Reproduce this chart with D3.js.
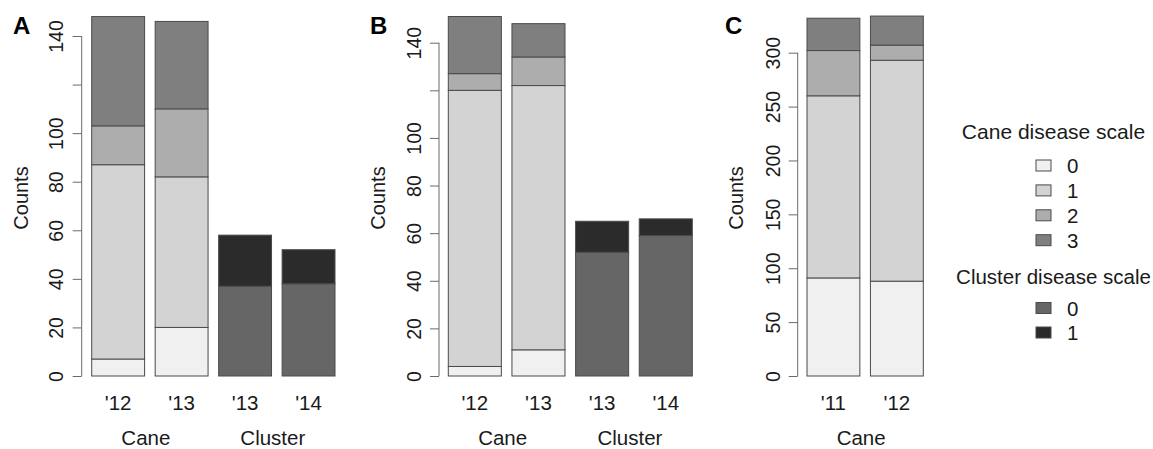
<!DOCTYPE html>
<html>
<head>
<meta charset="utf-8">
<script src="https://cdn.jsdelivr.net/npm/d3@7"></script>
<style>
  html, body { margin: 0; padding: 0; background: #fff; }
  svg { display: block; font-family: "Liberation Sans", Arial, sans-serif; }
</style>
</head>
<body>
<svg id="chart" width="1153" height="449"></svg>
<script>
// ---------- DATA ----------
const caneLevels = ["0", "1", "2", "3"];
const clusterLevels = ["0", "1"];

// Panel A
const aCaneYears = ["'12", "'13"];
const aClusterYears = ["'13", "'14"];
const aCane0 = [7, 20];
const aCane1 = [80, 62];
const aCane2 = [16, 28];
const aCane3 = [45, 36];
const aCluster0 = [37, 38];
const aCluster1 = [21, 14];
const aTicks = [0, 20, 40, 60, 80, 100, 120, 140];
const aTickLabels = ["0", "20", "40", "60", "80", "100", "", "140"];

// Panel B
const bCaneYears = ["'12", "'13"];
const bClusterYears = ["'13", "'14"];
const bCane0 = [4, 11];
const bCane1 = [116, 111];
const bCane2 = [7, 12];
const bCane3 = [24, 14];
const bCluster0 = [52, 59];
const bCluster1 = [13, 7];
const bTicks = [0, 20, 40, 60, 80, 100, 120, 140];
const bTickLabels = ["0", "20", "40", "60", "80", "100", "", "140"];

// Panel C
const cCaneYears = ["'11", "'12"];
const cCane0 = [91, 88];
const cCane1 = [169, 205];
const cCane2 = [42, 14];
const cCane3 = [30, 27];
const cTicks = [0, 50, 100, 150, 200, 250, 300];
const cTickLabels = ["0", "50", "100", "150", "200", "250", "300"];

// ---------- STYLE ----------
const caneColors = ["#f0f0f0", "#d3d3d3", "#adadad", "#7f7f7f"];
const clusterColors = ["#666666", "#2b2b2b"];
const borderColor = "#4a4a4a";
const axisColor = "#6a6a6a";
const textColor = "#1a1a1a";

const svg = d3.select("#chart");

function buildRows(years, arrays, keys, group) {
  return years.map((yr, i) => {
    const r = { label: yr, group: group };
    keys.forEach((k, j) => r[k] = arrays[j][i]);
    return r;
  });
}

function drawPanel(cfg) {
  const g = svg.append("g");
  const y = d3.scaleLinear().domain([0, cfg.yMax]).range([376, cfg.yTopPx]);
  const ids = cfg.bars.map((d, i) => i);
  const x = d3.scaleBand().domain(ids).range(cfg.xRange).paddingInner(1 / 6).paddingOuter(0);

  // stacked bars
  cfg.stacks.forEach(st => {
    const series = d3.stack().keys(st.keys)(st.rows);
    series.forEach((s, si) => {
      g.selectAll(null).data(s).enter().append("rect")
        .attr("x", (d, i) => x(st.offset + i))
        .attr("width", x.bandwidth())
        .attr("y", d => y(d[1]))
        .attr("height", d => y(d[0]) - y(d[1]))
        .attr("fill", st.colors[si])
        .attr("stroke", borderColor)
        .attr("stroke-width", 1);
    });
  });

  // y axis
  const axis = d3.axisLeft(y).tickValues(cfg.ticks)
    .tickFormat((d, i) => cfg.tickLabels[i])
    .tickSize(9).tickSizeOuter(0);
  const ag = g.append("g").attr("transform", `translate(${cfg.axisX},0)`).call(axis);
  ag.select(".domain").attr("stroke", axisColor).attr("d", `M0,${y(cfg.ticks[0])}V${y(cfg.ticks[cfg.ticks.length - 1])}`);
  ag.selectAll(".tick line").attr("stroke", axisColor);
  ag.selectAll(".tick text")
    .attr("x", null).attr("dy", null)
    .attr("transform", `translate(${cfg.tickLabelOffset},0) rotate(-90)`)
    .attr("text-anchor", "middle")
    .attr("fill", textColor)
    .style("font-size", "19.5px")
    .style("font-family", "'Liberation Sans', Arial, sans-serif");

  // y label
  g.append("text")
    .attr("transform", `translate(${cfg.ylabX},198) rotate(-90)`)
    .attr("text-anchor", "middle")
    .attr("fill", textColor)
    .style("font-size", "20px")
    .text("Counts");

  // x tick labels
  g.selectAll(null).data(cfg.bars).enter().append("text")
    .attr("x", (d, i) => x(i) + x.bandwidth() / 2)
    .attr("y", 410)
    .attr("text-anchor", "middle")
    .attr("fill", textColor)
    .style("font-size", "20.5px")
    .text(d => d);

  // group labels
  cfg.groups.forEach(gr => {
    const cx = (x(gr.from) + x(gr.to) + x.bandwidth()) / 2 - 4;
    g.append("text")
      .attr("x", cx).attr("y", 445)
      .attr("text-anchor", "middle")
      .attr("fill", textColor)
      .style("font-size", "20.5px")
      .text(gr.name);
  });

  // panel letter
  g.append("text")
    .attr("x", cfg.letterX).attr("y", 33.5)
    .attr("fill", "#000")
    .style("font-size", "24px")
    .style("font-weight", "bold")
    .text(cfg.letter);
}

// Panel A
drawPanel({
  letter: "A", letterX: 13,
  yMax: 140, yTopPx: 36, axisX: 81.7, tickLabelOffset: -19, ylabX: 28,
  ticks: aTicks, tickLabels: aTickLabels,
  xRange: [91.7, 335],
  bars: aCaneYears.concat(aClusterYears),
  stacks: [
    { offset: 0, keys: caneLevels, colors: caneColors,
      rows: buildRows(aCaneYears, [aCane0, aCane1, aCane2, aCane3], caneLevels, "Cane") },
    { offset: 2, keys: clusterLevels, colors: clusterColors,
      rows: buildRows(aClusterYears, [aCluster0, aCluster1], clusterLevels, "Cluster") }
  ],
  groups: [{ name: "Cane", from: 0, to: 1 }, { name: "Cluster", from: 2, to: 3 }]
});

// Panel B
drawPanel({
  letter: "B", letterX: 370,
  yMax: 140, yTopPx: 42.7, axisX: 439, tickLabelOffset: -18, ylabX: 385,
  ticks: bTicks, tickLabels: bTickLabels,
  xRange: [448.3, 692.3],
  bars: bCaneYears.concat(bClusterYears),
  stacks: [
    { offset: 0, keys: caneLevels, colors: caneColors,
      rows: buildRows(bCaneYears, [bCane0, bCane1, bCane2, bCane3], caneLevels, "Cane") },
    { offset: 2, keys: clusterLevels, colors: clusterColors,
      rows: buildRows(bClusterYears, [bCluster0, bCluster1], clusterLevels, "Cluster") }
  ],
  groups: [{ name: "Cane", from: 0, to: 1 }, { name: "Cluster", from: 2, to: 3 }]
});

// Panel C
drawPanel({
  letter: "C", letterX: 725,
  yMax: 300, yTopPx: 52.7, axisX: 797.7, tickLabelOffset: -18, ylabX: 743,
  ticks: cTicks, tickLabels: cTickLabels,
  xRange: [807, 923.3],
  bars: cCaneYears,
  stacks: [
    { offset: 0, keys: caneLevels, colors: caneColors,
      rows: buildRows(cCaneYears, [cCane0, cCane1, cCane2, cCane3], caneLevels, "Cane") }
  ],
  groups: [{ name: "Cane", from: 0, to: 1 }]
});

// ---------- LEGEND ----------
const lg = svg.append("g");
const legendCx = 1053.5;
const boxX = 1036, boxW = 15, boxH = 11, labX = 1067;

lg.append("text").attr("x", legendCx).attr("y", 139).attr("text-anchor", "middle")
  .attr("fill", textColor).style("font-size", "21px").text("Cane disease scale");
caneLevels.forEach((lv, i) => {
  const cy = 165.5 + i * 24.9;
  lg.append("rect").attr("x", boxX).attr("y", cy - boxH / 2).attr("width", boxW).attr("height", boxH)
    .attr("fill", caneColors[i]).attr("stroke", borderColor);
  lg.append("text").attr("x", labX).attr("y", cy + 7.5).attr("fill", textColor)
    .style("font-size", "20.5px").text(lv);
});

lg.append("text").attr("x", legendCx).attr("y", 284).attr("text-anchor", "middle")
  .attr("fill", textColor).style("font-size", "20.5px").text("Cluster disease scale");
clusterLevels.forEach((lv, i) => {
  const cy = 308 + i * 24.5;
  lg.append("rect").attr("x", boxX).attr("y", cy - boxH / 2).attr("width", boxW).attr("height", boxH)
    .attr("fill", clusterColors[i]).attr("stroke", borderColor);
  lg.append("text").attr("x", labX).attr("y", cy + 7.5).attr("fill", textColor)
    .style("font-size", "20.5px").text(lv);
});
</script>
</body>
</html>
